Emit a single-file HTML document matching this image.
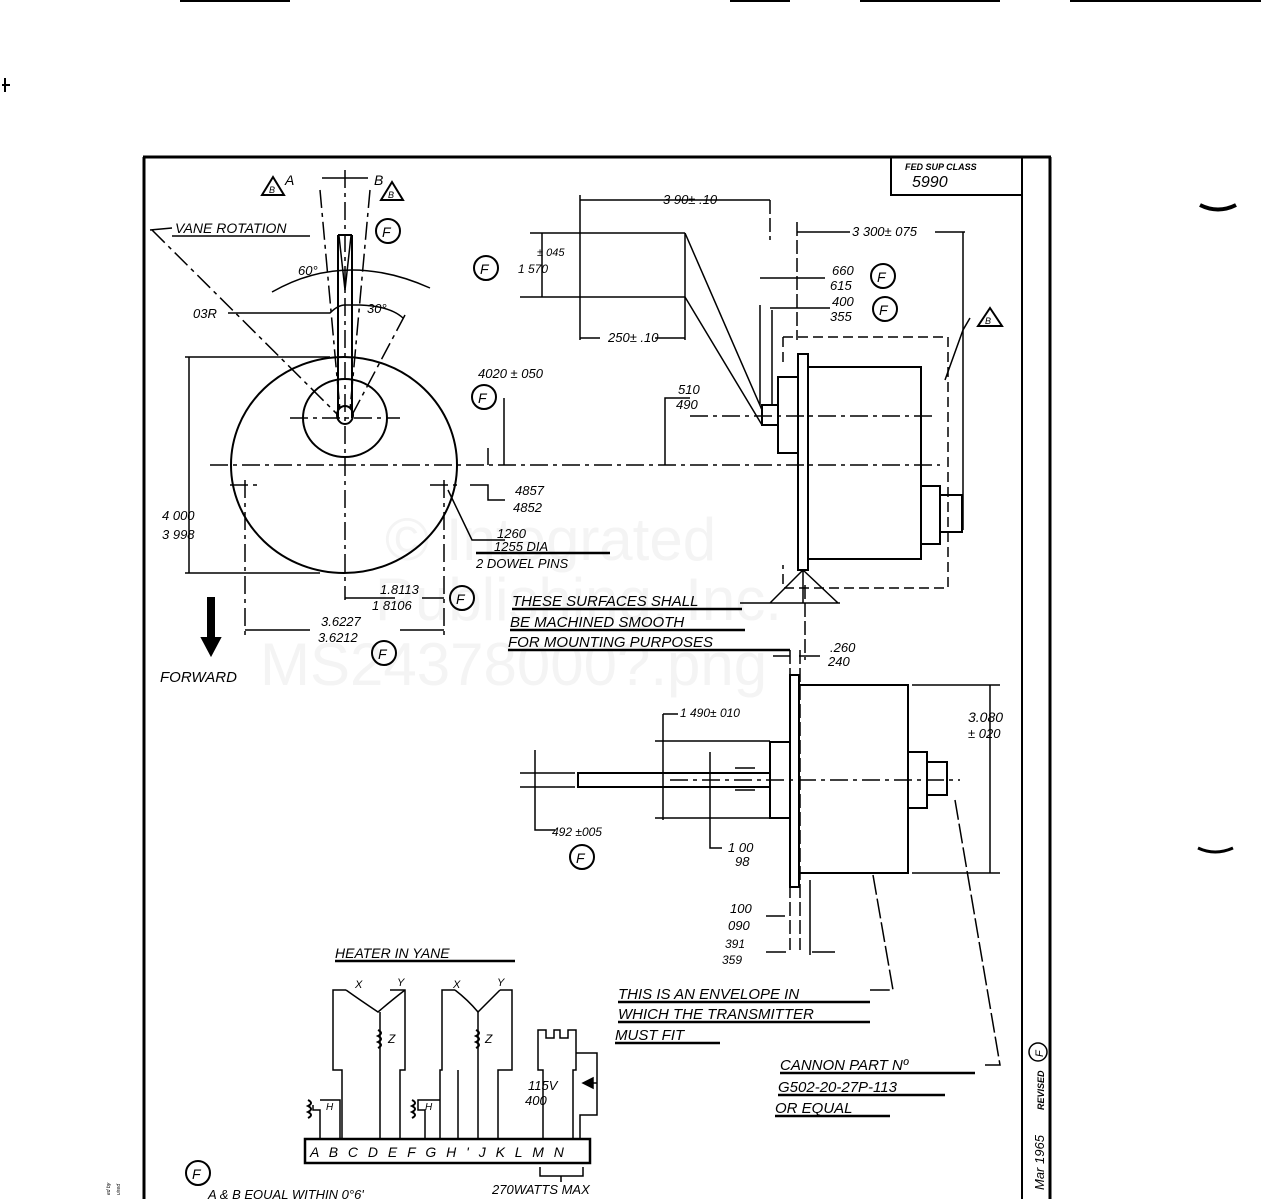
<!DOCTYPE html>
<html><head><meta charset="utf-8"><style>
html,body{margin:0;padding:0;background:#fff;}
svg{display:block}
text{font-family:"Liberation Sans",sans-serif;font-style:italic;fill:#000;}
</style></head><body>
<svg width="1261" height="1199" viewBox="0 0 1261 1199" xmlns="http://www.w3.org/2000/svg">
<g font-size="60">
<text x="385" y="560" style="font-style:normal;fill:#f4f4f4">© Integrated</text>
<text x="375" y="620" style="font-style:normal;fill:#f4f4f4">Publishing, Inc.</text>
<text x="260" y="685" style="font-style:normal;fill:#f4f4f4">MS24378000?.png</text>
</g>
<g stroke="#000" fill="none" stroke-width="2">
<line x1="180" y1="1" x2="290" y2="1"/><line x1="730" y1="1" x2="790" y2="1"/><line x1="860" y1="1" x2="1000" y2="1"/><line x1="1070" y1="1" x2="1261" y2="1"/>
<line x1="2" y1="85" x2="10" y2="85"/><line x1="5" y1="78" x2="5" y2="92"/>
<line x1="143" y1="157" x2="1051" y2="157" stroke-width="3"/>
<line x1="144" y1="157" x2="144" y2="1199" stroke-width="3"/>
<line x1="1050" y1="157" x2="1050" y2="1199" stroke-width="3"/>
<line x1="1022" y1="157" x2="1022" y2="1199"/>
<path d="M891 157 V195 H1022"/>
<path d="M1200 205 Q1218 214 1236 205" stroke-width="4"/>
<path d="M1198 848 Q1215 856 1233 848" stroke-width="3"/>
<ellipse cx="344" cy="465" rx="113" ry="108"/>
<ellipse cx="345" cy="418" rx="42" ry="39"/>
<path d="M338 235 V418 M352 235 V418 M338 235 H352"/>
<path d="M339 236 L345 290 L351 236" stroke-width="1.5"/>
<ellipse cx="345" cy="415" rx="8" ry="9"/>
<g stroke-dasharray="18 5 4 5" stroke-width="1.5">
<line x1="345" y1="170" x2="345" y2="600"/>
<line x1="210" y1="465" x2="940" y2="465"/>
<line x1="290" y1="418" x2="400" y2="418"/>
<line x1="320" y1="190" x2="340" y2="410"/>
<line x1="370" y1="190" x2="350" y2="410"/>
<line x1="152" y1="230" x2="338" y2="415"/>
<line x1="405" y1="315" x2="352" y2="415"/>
<line x1="245" y1="480" x2="245" y2="640"/>
<line x1="444" y1="480" x2="444" y2="640"/>
<line x1="230" y1="485" x2="260" y2="485"/>
<line x1="430" y1="485" x2="460" y2="485"/>
</g>
<line x1="322" y1="178" x2="368" y2="178" stroke-width="1.5"/>
<path d="M272 292 Q345 250 430 288" stroke-width="1.5"/>
<path d="M228 313 H330 Q338 305 345 305 L360 305 Q390 306 403 318" stroke-width="1.5"/>
<line x1="150" y1="230" x2="172" y2="228" stroke-width="1.5"/>
<line x1="172" y1="236" x2="310" y2="236" stroke-width="1.5"/>
<line x1="185" y1="357" x2="330" y2="357" stroke-width="1.5"/>
<line x1="185" y1="573" x2="320" y2="573" stroke-width="1.5"/>
<line x1="189" y1="357" x2="189" y2="573" stroke-width="1.5"/>
<line x1="345" y1="598" x2="395" y2="598" stroke-width="1.5"/>
<line x1="422" y1="598" x2="444" y2="598" stroke-width="1.5"/>
<line x1="245" y1="630" x2="310" y2="630" stroke-width="1.5"/>
<line x1="400" y1="630" x2="444" y2="630" stroke-width="1.5"/>
<path d="M448 490 L472 540 H505" stroke-width="1.5"/>
<path d="M470 485 H488 V500 H505" stroke-width="1.5"/>
<line x1="488" y1="448" x2="488" y2="465" stroke-width="1.5"/>
<line x1="504" y1="398" x2="504" y2="465" stroke-width="1.5"/>
<line x1="211" y1="597" x2="211" y2="640" stroke-width="8"/>
<path d="M202 638 L211 655 L220 638 Z" fill="#000"/>
<path d="M580 233 H685 M580 297 H685 M580 195 V340 M685 233 V340" stroke-width="1.5"/>
<line x1="580" y1="200" x2="770" y2="200" stroke-width="1.5"/>
<line x1="580" y1="338" x2="600" y2="338" stroke-width="1.5"/>
<line x1="655" y1="338" x2="685" y2="338" stroke-width="1.5"/>
<line x1="530" y1="233" x2="580" y2="233" stroke-width="1.5"/>
<line x1="520" y1="297" x2="580" y2="297" stroke-width="1.5"/>
<line x1="542" y1="233" x2="542" y2="297" stroke-width="1.5"/>
<line x1="685" y1="233" x2="762" y2="410" stroke-width="1.5"/>
<line x1="685" y1="297" x2="762" y2="425" stroke-width="1.5"/>
<rect x="798" y="354" width="10" height="216"/>
<rect x="808" y="367" width="113" height="192"/>
<rect x="778" y="377" width="20" height="76"/>
<rect x="762" y="405" width="16" height="20"/>
<rect x="921" y="486" width="19" height="58"/>
<rect x="940" y="495" width="22" height="37"/>
<path d="M783 337 H948 V588 H783 V565 M783 337 V362" stroke-dasharray="10 5" stroke-width="1.5"/>
<line x1="690" y1="416" x2="935" y2="416" stroke-dasharray="18 5 4 5" stroke-width="1.5"/>
<path d="M665 465 V398 H690" stroke-width="1.5"/>
<line x1="797" y1="222" x2="797" y2="340" stroke-dasharray="14 4" stroke-width="1.5"/>
<line x1="770" y1="200" x2="770" y2="240" stroke-dasharray="14 4" stroke-width="1.5"/>
<line x1="797" y1="232" x2="850" y2="232" stroke-width="1.5"/>
<line x1="935" y1="232" x2="965" y2="232" stroke-width="1.5"/>
<line x1="963" y1="232" x2="963" y2="530" stroke-width="1.5"/>
<line x1="760" y1="278" x2="825" y2="278" stroke-width="1.5"/>
<line x1="770" y1="308" x2="830" y2="308" stroke-width="1.5"/>
<line x1="760" y1="305" x2="760" y2="405" stroke-width="1.5"/>
<line x1="772" y1="310" x2="772" y2="405" stroke-width="1.5"/>
<path d="M970 318 L963 330 L945 380" stroke-width="1.5"/>
<path d="M770 603 L803 570 L838 603 Z M740 603 H840 M803 570 V603" stroke-width="1.5"/>
<line x1="805" y1="585" x2="805" y2="660" stroke-dasharray="14 4" stroke-width="1.5"/>
<rect x="790" y="675" width="9" height="212"/>
<rect x="799" y="685" width="109" height="188"/>
<rect x="770" y="742" width="20" height="76"/>
<rect x="578" y="773" width="192" height="14"/>
<rect x="908" y="752" width="19" height="56"/>
<rect x="927" y="762" width="20" height="33"/>
<line x1="670" y1="780" x2="960" y2="780" stroke-dasharray="18 5 4 5" stroke-width="1.5"/>
<path d="M663 714 H678 M663 714 V820 M655 741 H770 M655 818 H770 M520 773 H575 M520 787 H575 M535 750 V830 H555 M710 752 V848 H722 M735 768 H755 M735 790 H755" stroke-width="1.5"/>
<path d="M912 685 H1000 M912 873 H1000 M990 685 V873" stroke-width="1.5"/>
<line x1="790" y1="650" x2="790" y2="950" stroke-dasharray="14 4" stroke-width="1.5"/>
<line x1="800" y1="650" x2="800" y2="950" stroke-dasharray="14 4" stroke-width="1.5"/>
<line x1="810" y1="880" x2="810" y2="955" stroke-width="1.5"/>
<line x1="773" y1="656" x2="790" y2="656" stroke-width="1.5"/>
<line x1="799" y1="656" x2="820" y2="656" stroke-width="1.5"/>
<line x1="766" y1="916" x2="785" y2="916" stroke-width="1.5"/>
<line x1="766" y1="952" x2="786" y2="952" stroke-width="1.5"/>
<line x1="812" y1="952" x2="835" y2="952" stroke-width="1.5"/>
<path d="M873 875 L893 990 H870" stroke-width="1.5" stroke-dasharray="20 4"/>
<path d="M955 800 L1000 1065 H985" stroke-width="1.5" stroke-dasharray="20 4"/>
<g stroke-width="2.5">
<line x1="335" y1="961" x2="515" y2="961"/>
<line x1="512" y1="609" x2="742" y2="609"/>
<line x1="510" y1="630" x2="745" y2="630"/>
<line x1="508" y1="650" x2="790" y2="650"/>
<line x1="476" y1="553" x2="610" y2="553"/>
<line x1="618" y1="1002" x2="870" y2="1002"/>
<line x1="618" y1="1022" x2="870" y2="1022"/>
<line x1="615" y1="1043" x2="720" y2="1043"/>
<line x1="780" y1="1073" x2="975" y2="1073"/>
<line x1="778" y1="1095" x2="945" y2="1095"/>
<line x1="775" y1="1116" x2="890" y2="1116"/>
</g>
<rect x="305" y="1139" width="285" height="24" stroke-width="2.5"/>
<path d="M342 1139 V1070 H333 V990 H346 M390 990 H405 V1070 H400 V1139" stroke-width="1.5"/>
<path d="M346 990 Q360 1000 378 1012 Q392 1000 405 990" stroke-width="1.5"/>
<path d="M380 1012 V1139" stroke-width="1.5"/>
<path d="M440 1139 V1070 H442 V990 H455 M500 990 H512 V1070 H498 V1139" stroke-width="1.5"/>
<path d="M455 990 Q468 1000 478 1012 Q490 1000 500 990" stroke-width="1.5"/>
<path d="M478 1012 V1139 M458 1139 V1070" stroke-width="1.5"/>
<path d="M543 1139 V1070 H538 V1030 H546 V1038 H554 V1030 H560 V1038 H568 V1030 H576 V1070 H573 V1139 M576 1070 V1053 H597 V1115 H580 V1139" stroke-width="1.5"/>
<path d="M320 1139 V1110 H313 V1105 M320 1100 H340 V1139 M425 1139 V1110 H418 V1100 H440" stroke-width="1.5"/>
<path d="M540 1167 V1176 H583 V1167 M561 1176 V1182" stroke-width="1.5"/>
<path d="M308 1118 q6 -3 0 -6 q6 -3 0 -6 q6 -3 0 -6 M412 1118 q6 -3 0 -6 q6 -3 0 -6 q6 -3 0 -6 M378 1048 q6 -3 0 -6 q6 -3 0 -6 q6 -3 0 -6 M476 1048 q6 -3 0 -6 q6 -3 0 -6 q6 -3 0 -6" stroke-width="2"/>
<path d="M583 1083 L593 1078 V1088 Z M593 1083 H597" fill="#000" stroke-width="1.5"/>
<circle cx="388" cy="231" r="12"/><circle cx="486" cy="268" r="12"/>
<circle cx="883" cy="276" r="12"/><circle cx="885" cy="309" r="12"/>
<circle cx="484" cy="397" r="12"/><circle cx="462" cy="598" r="12"/>
<circle cx="384" cy="653" r="12"/><circle cx="582" cy="857" r="12"/>
<circle cx="198" cy="1173" r="12"/>
<path d="M262 195 L273 177 L284 195 Z M381 200 L392 182 L403 200 Z M978 326 L990 308 L1002 326 Z" stroke-width="2"/>
</g>
<g font-size="15">
<text x="905" y="170" font-size="9" font-style="normal" font-weight="bold">FED SUP CLASS</text>
<text x="912" y="187" font-size="16">5990</text>
<text x="285" y="185" font-size="14">A</text><text x="374" y="185" font-size="14">B</text>
<text x="269" y="193" font-size="9">B</text><text x="388" y="198" font-size="9">B</text><text x="985" y="324" font-size="9">B</text>
<text x="175" y="233" font-size="14">VANE ROTATION</text>
<text x="382" y="237" font-size="14" font-style="normal">F</text>
<text x="480" y="274" font-size="14" font-style="normal">F</text>
<text x="877" y="282" font-size="14" font-style="normal">F</text>
<text x="879" y="315" font-size="14" font-style="normal">F</text>
<text x="478" y="403" font-size="14" font-style="normal">F</text>
<text x="456" y="604" font-size="14" font-style="normal">F</text>
<text x="378" y="659" font-size="14" font-style="normal">F</text>
<text x="576" y="863" font-size="14" font-style="normal">F</text>
<text x="192" y="1179" font-size="14" font-style="normal">F</text>
<text x="298" y="275" font-size="13">60°</text>
<text x="367" y="313" font-size="13">30°</text>
<text x="193" y="318" font-size="13">03R</text>
<text x="663" y="204" font-size="13">3 90± .10</text>
<text x="852" y="236" font-size="13">3 300± 075</text>
<text x="537" y="256" font-size="11">± 045</text>
<text x="518" y="273" font-size="12">1 570</text>
<text x="608" y="342" font-size="13">250± .10</text>
<text x="832" y="275" font-size="13">660</text><text x="830" y="290" font-size="13">615</text>
<text x="832" y="306" font-size="13">400</text><text x="830" y="321" font-size="13">355</text>
<text x="478" y="378" font-size="13">4020 ± 050</text>
<text x="678" y="394" font-size="13">510</text><text x="676" y="409" font-size="13">490</text>
<text x="515" y="495" font-size="13">4857</text><text x="513" y="512" font-size="13">4852</text>
<text x="162" y="520" font-size="13">4 000</text><text x="162" y="539" font-size="13">3 998</text>
<text x="497" y="538" font-size="13">1260</text><text x="494" y="551" font-size="13">1255 DIA</text>
<text x="476" y="568" font-size="13">2 DOWEL PINS</text>
<text x="380" y="594" font-size="13">1.8113</text><text x="372" y="610" font-size="13">1 8106</text>
<text x="321" y="626" font-size="13">3.6227</text><text x="318" y="642" font-size="13">3.6212</text>
<text x="160" y="682" font-size="15">FORWARD</text>
<text x="512" y="606" font-size="15">THESE SURFACES SHALL</text>
<text x="510" y="627" font-size="15">BE MACHINED SMOOTH</text>
<text x="508" y="647" font-size="15">FOR MOUNTING PURPOSES</text>
<text x="830" y="652" font-size="13">.260</text><text x="828" y="666" font-size="13">240</text>
<text x="680" y="717" font-size="12">1 490± 010</text>
<text x="968" y="722" font-size="14" font-style="normal">3.080</text><text x="968" y="738" font-size="13">± 020</text>
<text x="552" y="836" font-size="12">492 ±005</text>
<text x="728" y="852" font-size="13">1 00</text><text x="735" y="866" font-size="13">98</text>
<text x="730" y="913" font-size="13">100</text><text x="728" y="930" font-size="13">090</text>
<text x="725" y="948" font-size="12">391</text><text x="722" y="964" font-size="12">359</text>
<text x="618" y="999" font-size="15">THIS IS AN ENVELOPE IN</text>
<text x="618" y="1019" font-size="15">WHICH THE TRANSMITTER</text>
<text x="615" y="1040" font-size="15">MUST FIT</text>
<text x="780" y="1070" font-size="15">CANNON PART Nº</text>
<text x="778" y="1092" font-size="15">G502-20-27P-113</text>
<text x="775" y="1113" font-size="15">OR EQUAL</text>
<text x="335" y="958" font-size="14">HEATER  IN YANE</text>
<text x="355" y="988" font-size="11">X</text><text x="397" y="986" font-size="11">Y</text>
<text x="453" y="988" font-size="11">X</text><text x="497" y="986" font-size="11">Y</text>
<text x="388" y="1043" font-size="12">Z</text><text x="485" y="1043" font-size="12">Z</text>
<text x="326" y="1110" font-size="10">H</text><text x="425" y="1110" font-size="10">H</text>
<text x="528" y="1090" font-size="13">115V</text><text x="525" y="1105" font-size="13">400</text>
<text x="310" y="1157" font-size="14" letter-spacing="3">A B C D E F G H  ' J K L M N</text>
<text x="492" y="1194" font-size="13">270WATTS MAX</text>
<text x="208" y="1199" font-size="13">A &amp; B EQUAL WITHIN 0°6'</text>
<text transform="translate(1044,1190) rotate(-90)" font-size="13">Mar 1965</text>
<text transform="translate(1044,1110) rotate(-90)" font-size="9" font-style="normal" font-weight="bold">REVISED</text>
<circle cx="1038" cy="1052" r="9" fill="none" stroke="#000" stroke-width="1.5"/>
<text transform="translate(1043,1057) rotate(-90)" font-size="11" font-style="normal">F</text>
<text transform="translate(110,1195) rotate(-90)" font-size="5" font-style="normal">ed by</text>
<text transform="translate(120,1195) rotate(-90)" font-size="5" font-style="normal">uired</text>
</g>
</svg>
</body></html>
